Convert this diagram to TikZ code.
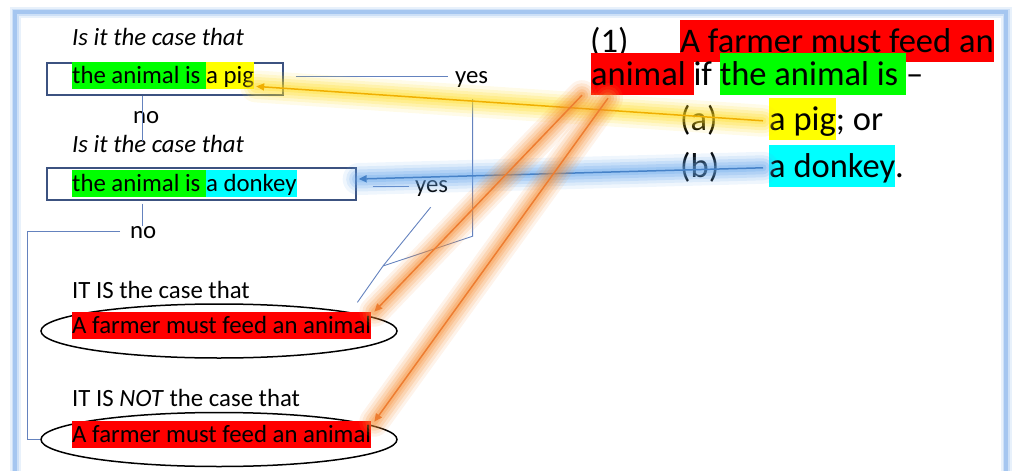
\documentclass[tikz,border=0pt]{standalone}
\usepackage{fontspec}
\setmainfont{Carlito}
\usetikzlibrary{calc,arrows.meta,shapes.geometric}
\definecolor{hlgreen}{RGB}{0,255,0}
\definecolor{hlyellow}{RGB}{255,255,0}
\definecolor{hlcyan}{RGB}{0,255,255}
\definecolor{hlred}{RGB}{255,0,0}
\definecolor{framebl}{RGB}{165,198,240}
\definecolor{boxcol}{RGB}{60,82,128}
\definecolor{linecol}{RGB}{100,130,190}
\definecolor{yarrow}{RGB}{240,175,0}
\definecolor{yglow}{RGB}{255,220,30}
\definecolor{barrow}{RGB}{70,130,200}
\definecolor{bglow}{RGB}{100,165,235}
\definecolor{oarrow}{RGB}{237,125,49}
\definecolor{oglow}{RGB}{245,140,50}
\newcommand\hlL[2]{{\setlength\fboxsep{0pt}\colorbox{#1}{\rule[-0.25em]{0pt}{1.1em}#2}}}
\newcommand\hlR[2]{{\setlength\fboxsep{0pt}\colorbox{#1}{\rule[-0.29em]{0pt}{1.23em}#2}}}
\tikzset{
  lefttxt/.style={inner sep=0pt, anchor=base west, font=\fontsize{24.8}{28}\selectfont},
  righttxt/.style={inner sep=0pt, anchor=base west, font=\fontsize{34.5}{40}\selectfont},
  qbox/.style={draw=boxcol, line width=1.3pt, rectangle, minimum height=32pt, inner sep=0pt},
  oval/.style={draw=black, line width=1.5pt, ellipse, minimum width=356pt, minimum height=54pt, inner sep=0pt},
  conn/.style={draw=linecol, line width=0.9pt},
  glowY/.style={preaction={draw=yglow,-,line width=32pt,opacity=0.10,line cap=round},
                preaction={draw=yglow,-,line width=25pt,opacity=0.14,line cap=round},
                preaction={draw=yglow,-,line width=19pt,opacity=0.18,line cap=round},
                preaction={draw=yglow,-,line width=13pt,opacity=0.22,line cap=round},
                preaction={draw=yglow,-,line width=7pt,opacity=0.26,line cap=round}},
  glowB/.style={preaction={draw=bglow,-,line width=32pt,opacity=0.10,line cap=round},
                preaction={draw=bglow,-,line width=25pt,opacity=0.14,line cap=round},
                preaction={draw=bglow,-,line width=19pt,opacity=0.18,line cap=round},
                preaction={draw=bglow,-,line width=13pt,opacity=0.22,line cap=round},
                preaction={draw=bglow,-,line width=7pt,opacity=0.26,line cap=round}},
  glowO/.style={preaction={draw=oglow,-,line width=30pt,opacity=0.10,line cap=round},
                preaction={draw=oglow,-,line width=24pt,opacity=0.14,line cap=round},
                preaction={draw=oglow,-,line width=18pt,opacity=0.18,line cap=round},
                preaction={draw=oglow,-,line width=12pt,opacity=0.22,line cap=round},
                preaction={draw=oglow,-,line width=7pt,opacity=0.26,line cap=round}},
  arr/.style={line width=1.5pt, -{Triangle[length=8pt,width=7pt]}},
}
\begin{document}
\begin{tikzpicture}[x=1pt,y=-1pt]
\useasboundingbox (0,0) rectangle (1015,471);
% frame
\draw[draw=framebl!25, line width=11pt] (15,12) rectangle (1006,520);
\draw[draw=framebl!55, line width=7pt] (15,12) rectangle (1006,520);
\draw[draw=framebl, line width=4pt] (15,12) rectangle (1006,520);

% left flowchart
\node[lefttxt] (q1) at (72,45) {\itshape Is it the case that};
\node[qbox, minimum width=236pt] (b1) at (165,79) {};
\node[lefttxt] (t1) at (72,83) {\hlL{hlgreen}{the animal is\ }\hlL{hlyellow}{a pig}};
\node[lefttxt] (no1) at (133,123) {no};
\node[lefttxt] (q2) at (72,152) {\itshape Is it the case that};
\node[qbox, minimum width=309pt] (b2) at (201.5,184) {};
\node[lefttxt] (t2) at (72,191) {\hlL{hlgreen}{the animal is\ }\hlL{hlcyan}{a donkey}};
\node[lefttxt] (no2) at (130,238) {no};
\node[lefttxt] (yes1) at (455,83) {yes};
\node[lefttxt] (yes2) at (415,192) {yes};
\node[lefttxt] (c1) at (72,298) {IT IS the case that};
\node[oval] (e1) at (219,331) {};
\node[lefttxt] (e1t) at (72,333) {\hlL{hlred}{A farmer must feed an animal}};
\node[lefttxt] (c2) at (72,406) {IT IS \textit{NOT} the case that};
\node[oval] (e2) at (219,439.5) {};
\node[lefttxt] (e2t) at (72,442) {\hlL{hlred}{A farmer must feed an animal}};

% right text
\node[righttxt] (n1) at (590,52) {(1)};
\node[righttxt] (r1) at (680,52) {\hlR{hlred}{A farmer must feed an}};
\node[righttxt] (r2) at (591,85) {\hlR{hlred}{animal\ }if \hlR{hlgreen}{the animal is\ }–};
\node[righttxt] (ra) at (680,130) {(a)};
\node[righttxt] (rapig) at (769,130) {\hlR{hlyellow}{a pig}; or};
\node[righttxt] (rb) at (680,177) {(b)};
\node[righttxt] (rbdon) at (769,177) {\hlR{hlcyan}{a donkey}.};

% connectors (flowchart)
\coordinate (no1top) at ($(b1.south west)+(96,0)$);
\coordinate (no1bot) at ($(b1.south west)+(96,45)$);
\draw[conn] (no1top) -- (no1bot);
\coordinate (no2top) at ($(b2.south west)+(96,3)$);
\draw[conn] (no2top) -- (no2top |- no2.north);
\coordinate (no2l) at ($(no2.west)+(-10,0)$);
\coordinate (lcorner) at (27,231);
\draw[conn] (no2l |- lcorner) -- (lcorner) -- (lcorner |- e2) -- (e2.west);
\coordinate (jn) at (383,266);
\draw[conn] ($(b1.east)+(12,-3)$) -- ($(b1.east)+(164,-3)$);
\draw[conn] ($(yes1.south)+(1,12)$) -- ($(yes1.south)+(1,149)$) -- (jn);
\draw[conn] ($(b2.east)+(16,2)$) -- ($(b2.east)+(52,2)$);
\draw[conn] ($(yes2.south)+(-1,11)$) -- (jn) -- ($(e1.north east)+(12,-9)$);

% glowing arrows
\draw[glowY, draw=yarrow, arr] ($(rapig.west)+(-6,2)$) -- ($(t1.south east)+(2,-3)$);
\draw[glowB, draw=barrow, arr] ($(rbdon.west)+(-6,2)$) -- ($(b2.east)+(2,-5)$);
\draw[glowO, draw=oarrow, arr] ($(r2.south west)+(-9,0)$) -- ($(e1t.north east)+(3,0)$);
\draw[glowO, draw=oarrow, arr] ($(r2.south west)+(17,3)$) -- ($(e2t.north east)+(3,1)$);
\end{tikzpicture}
\end{document}
